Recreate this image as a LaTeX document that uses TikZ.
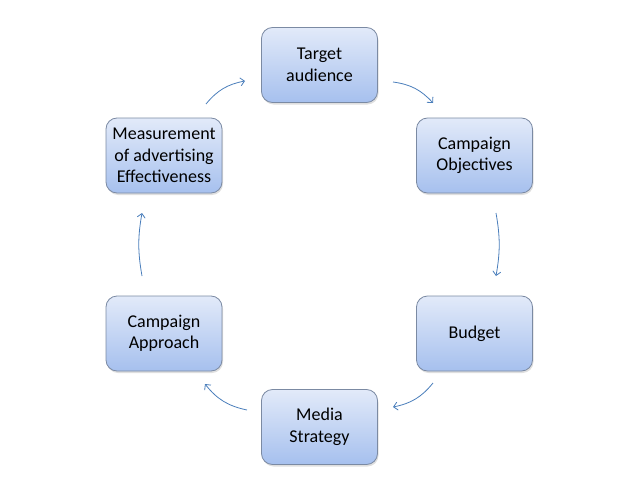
\documentclass[tikz,border=0pt]{standalone}
\usepackage{fontspec}
\setmainfont{Carlito}
\usetikzlibrary{shadows,arrows.meta}
\definecolor{boxtop}{HTML}{E2EAF9}
\definecolor{boxbot}{HTML}{A6C0EE}
\definecolor{boxline}{HTML}{7B8AA3}
\definecolor{arr}{HTML}{4A7EBB}
\tikzset{
  stage/.style={rectangle, rounded corners=11pt, minimum width=116pt, minimum height=75pt,
    draw=boxline, line width=0.8pt, top color=boxtop, bottom color=boxbot,
    align=center, font=\fontsize{18}{21.5}\selectfont, text=black,
    drop shadow={opacity=0.25, shadow xshift=1pt, shadow yshift=-2pt}},
  flow/.style={draw=arr, line width=0.8pt, -{Straight Barb[length=4pt,width=8pt]}}
}
\begin{document}
\begin{tikzpicture}[x=1pt,y=-1pt]
\useasboundingbox (0,0) rectangle (638,479);
\node[stage] (ta) at (319.5,65) {Target\\audience};
\node[stage] (co) at (474.5,155.5) {Campaign\\Objectives};
\node[stage] (bu) at (474.5,333.5) {Budget};
\node[stage] (ms) at (319.5,427) {Media\\Strategy};
\node[stage] (ca) at (164,333.5) {Campaign\\Approach};
\node[stage] (me) at (164,155.5) {Measurement\\of advertising\\Effectiveness};
\coordinate (a1s) at (393,82);  \coordinate (a1e) at (433,103);
\coordinate (a2s) at (496,213); \coordinate (a2e) at (496,276);
\coordinate (a3s) at (433,383); \coordinate (a3e) at (393,407);
\coordinate (a4s) at (247,410); \coordinate (a4e) at (205,384);
\coordinate (a5s) at (142,276); \coordinate (a5e) at (142,213);
\coordinate (a6s) at (206,104); \coordinate (a6e) at (245,81);
\draw[flow] (a1s) to[bend left=20] (a1e);
\draw[flow] (a2s) to[bend left=10] (a2e);
\draw[flow] (a3s) to[bend left=20] (a3e);
\draw[flow] (a4s) to[bend left=20] (a4e);
\draw[flow] (a5s) to[bend left=10] (a5e);
\draw[flow] (a6s) to[bend left=20] (a6e);
\end{tikzpicture}
\end{document}
